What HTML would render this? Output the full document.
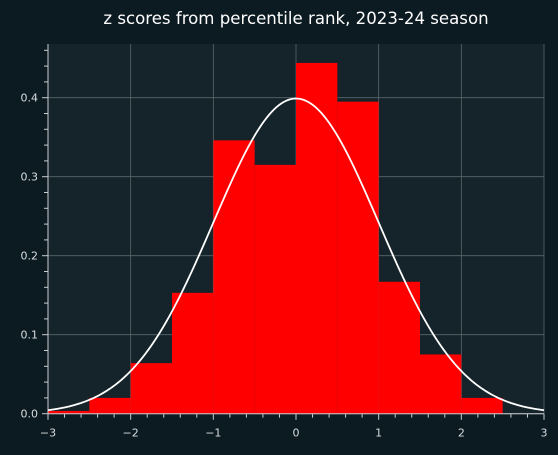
<!DOCTYPE html>
<html><head><meta charset="utf-8"><style>
html,body{margin:0;padding:0;background:#0c1b22;}
svg{display:block;font-family:"DejaVu Sans","Liberation Sans",sans-serif;}
</style></head><body>
<svg id="chart" width="558" height="455">
<rect width="558" height="455" fill="#0c1b22"/>
<text x="296" y="24" fill="#ffffff" font-size="16.6" text-anchor="middle">z scores from percentile rank, 2023-24 season</text>
<rect x="48" y="44" width="496" height="370" fill="#15232a"/>
<g id="grid"></g><g id="bars"></g><g id="curve"></g><g id="axes"></g>
</svg>
<script>
const binStarts=[-3,-2.5,-2,-1.5,-1,-0.5,0,0.5,1,1.5,2];
const binWidth=0.5;
const densities=[0.0035,0.02,0.064,0.153,0.346,0.315,0.444,0.395,0.167,0.075,0.02];
const xTicks=[-3,-2,-1,0,1,2,3];
const xTickLabels=["−3","−2","−1","0","1","2","3"];
const yTicks=[0,0.1,0.2,0.3,0.4];
const yTickLabels=["0.0","0.1","0.2","0.3","0.4"];
const NS="http://www.w3.org/2000/svg";
const L=48,R=544,B=413.7,T=44;
const xs=v=>L+(v+3)/6*(R-L);
const ys=v=>B-v*790;
function mk(tag,attrs,parent){const e=document.createElementNS(NS,tag);for(const k in attrs)e.setAttribute(k,attrs[k]);document.getElementById(parent).appendChild(e);return e;}
xTicks.forEach(t=>{const e=mk('line',{x1:xs(t),x2:xs(t),y1:T,y2:B,stroke:'#5a676c','stroke-width':0.8},'grid');

});
yTicks.forEach(t=>{const e=mk('line',{x1:L,x2:R,y1:ys(t),y2:ys(t),stroke:'#5a676c','stroke-width':0.8},'grid');

});
binStarts.forEach((s,i)=>{const e=mk('rect',{x:xs(s),y:ys(densities[i]),width:xs(s+binWidth)-xs(s),height:B-ys(densities[i]),fill:'#ff0000'},'bars');

});
let d='';for(let i=0;i<=300;i++){const x=-3+6*i/300;const y=Math.exp(-x*x/2)/Math.sqrt(2*Math.PI);d+=(i?'L':'M')+xs(x).toFixed(2)+','+ys(y).toFixed(2);}
const c=mk('path',{d:d,fill:'none',stroke:'#ffffff','stroke-width':1.8},'curve');


const ax1=mk('line',{x1:L,x2:L,y1:T,y2:B,stroke:'#c8cdd0','stroke-width':1},'axes');


const ax2=mk('line',{x1:L,x2:R,y1:B,y2:B,stroke:'#c8cdd0','stroke-width':1},'axes');


for(let i=0;i<=30;i++){const v=-3+i*0.2;const major=i%5===0;mk('line',{x1:xs(v),x2:xs(v),y1:B,y2:B+(major?6:4),stroke:'#c8cdd0','stroke-width':1},'axes');}
for(let i=0;i<=23;i++){const v=i*0.02;if(ys(v)<T)break;const major=i%5===0;mk('line',{x1:L,x2:L-(major?6:4),y1:ys(v),y2:ys(v),stroke:'#c8cdd0','stroke-width':1},'axes');}
xTicks.forEach((t,i)=>{const e=mk('text',{x:xs(t),y:B+23,fill:'#d8dcde','font-size':11,'text-anchor':'middle'},'axes');e.textContent=xTickLabels[i];

});
yTicks.forEach((t,i)=>{const e=mk('text',{x:L-10,y:ys(t)+4,fill:'#d8dcde','font-size':11,'text-anchor':'end'},'axes');e.textContent=yTickLabels[i];

});
</script>
</body></html>
